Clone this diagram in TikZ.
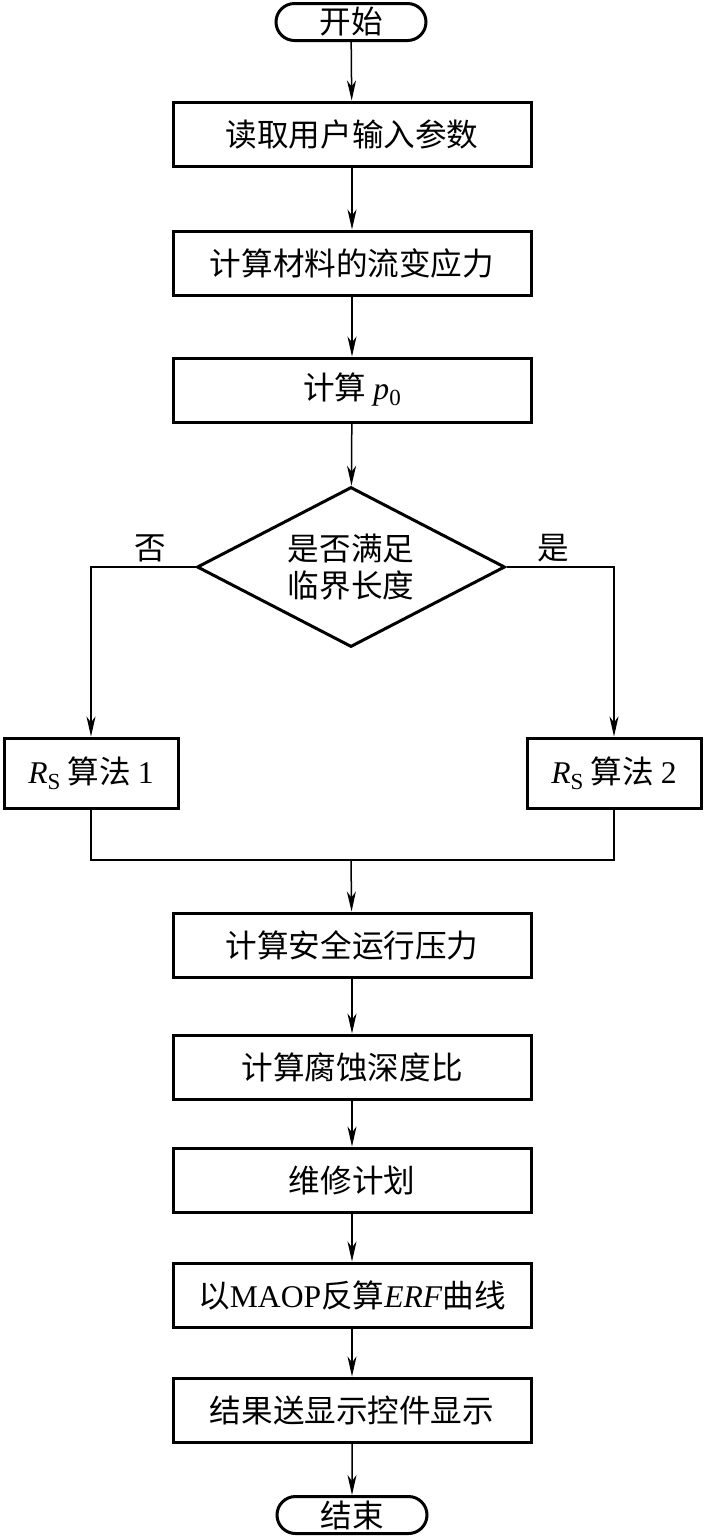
\documentclass[tikz,border=0pt]{standalone}
\usepackage{fontspec}
\setmainfont{Liberation Serif}
\newfontfamily\cjk{Noto Sans CJK SC}
\usetikzlibrary{shapes.geometric,shapes.misc,arrows.meta}
\newcommand{\rsvar}{\textit{R}\raisebox{-0.4ex}{\fontsize{11.5}{12}\selectfont S}}
\begin{document}
\begin{tikzpicture}[x=0.5pt,y=-0.5pt]
    \tikzset{every node/.style={font=\fontsize{15.8}{18.5}\selectfont\cjk, inner sep=0pt},
      proc/.style={draw, line width=1.5pt, minimum width=179pt, minimum height=32pt},
      term/.style={draw, rounded rectangle, line width=1.5pt, minimum width=75pt, minimum height=18.5pt},
      test/.style={draw, diamond, aspect=1.92, line width=1.5pt, minimum width=154pt, minimum height=80pt, align=center},
      arr/.style={line width=0.75pt, -{Stealth[length=10pt,width=4.5pt,inset=3pt]}},
      con/.style={line width=0.75pt}}
    \useasboundingbox (0,0) rectangle (704,1539);
    \node [term] (start) at (351,22) {开始};
    \node [proc] (read) at (352,134) {读取用户输入参数};
    \node [proc] (flow) at (352,263) {计算材料的流变应力};
    \node [proc] (pzero) at (352,390) {计算 {\rmfamily\textit{p}\raisebox{-0.4ex}{\fontsize{11.5}{12}\selectfont 0}}};
    \node [test] (crit) at (351,567) {是否满足\\临界长度};
    \node [proc, minimum width=87pt, minimum height=35pt] (alg1) at (91,773) {{\rmfamily\rsvar} 算法 {\rmfamily 1}};
    \node [proc, minimum width=87pt, minimum height=35pt] (alg2) at (614,773) {{\rmfamily\rsvar} 算法 {\rmfamily 2}};
    \coordinate (join) at (351,860);
    \node [proc] (safe) at (352,945) {计算安全运行压力};
    \node [proc] (depth) at (352,1067) {计算腐蚀深度比};
    \node [proc] (plan) at (352,1180) {维修计划};
    \node [proc] (erf) at (352,1295) {以{\rmfamily MAOP}反算{\rmfamily\textit{ERF}}曲线};
    \node [proc] (show) at (352,1410) {结果送显示控件显示};
    \node [term] (stop) at (352,1515) {结束};
    \node (no) at (150,548) {否};
    \node (yes) at (553,548) {是};
    % main chain
    \foreach \a/\b in {start/read, read/flow, flow/pzero, pzero/crit, join/safe, safe/depth, depth/plan, plan/erf, erf/show, show/stop}
      \draw [arr] (\a) -- (\b);
    % branches
    \draw [arr] (crit.west) -| (alg1.north);
    \draw [arr] (crit.east) -| (alg2.north);
    \draw [con] (alg1.south) |- (join) -| (alg2.south);
\end{tikzpicture}
\end{document}
